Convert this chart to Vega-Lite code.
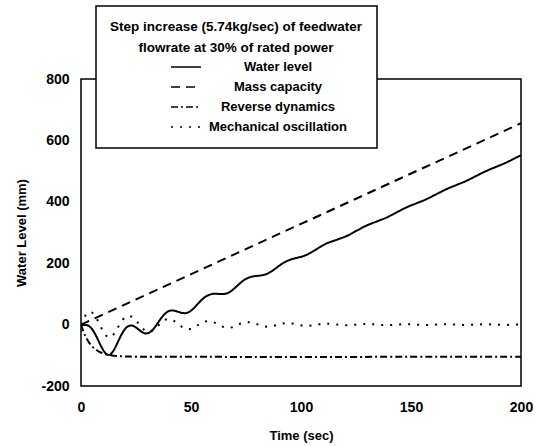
{
  "$schema": "https://vega.github.io/schema/vega-lite/v6.json",
  "autosize": {"type": "none"},
  "padding": {"left": 81, "top": 79, "right": 16, "bottom": 60},
  "width": 440,
  "height": 307,
  "background": "white",
  "data": {
    "values": [
      {"series": "Mass capacity", "time": 0, "level": 0},
      {"series": "Mass capacity", "time": 200, "level": 656},

      {"series": "Reverse dynamics", "time": 0, "level": 0},
      {"series": "Reverse dynamics", "time": 1, "level": -20.9},
      {"series": "Reverse dynamics", "time": 2, "level": -37.7},
      {"series": "Reverse dynamics", "time": 3, "level": -51.1},
      {"series": "Reverse dynamics", "time": 4, "level": -61.8},
      {"series": "Reverse dynamics", "time": 5, "level": -70.4},
      {"series": "Reverse dynamics", "time": 6, "level": -77.3},
      {"series": "Reverse dynamics", "time": 7, "level": -82.8},
      {"series": "Reverse dynamics", "time": 8, "level": -87.3},
      {"series": "Reverse dynamics", "time": 9, "level": -90.8},
      {"series": "Reverse dynamics", "time": 10, "level": -93.6},
      {"series": "Reverse dynamics", "time": 11, "level": -95.9},
      {"series": "Reverse dynamics", "time": 12, "level": -97.7},
      {"series": "Reverse dynamics", "time": 13, "level": -99.2},
      {"series": "Reverse dynamics", "time": 14, "level": -100.3},
      {"series": "Reverse dynamics", "time": 15, "level": -101.3},
      {"series": "Reverse dynamics", "time": 16, "level": -102},
      {"series": "Reverse dynamics", "time": 17, "level": -102.6},
      {"series": "Reverse dynamics", "time": 18, "level": -103.1},
      {"series": "Reverse dynamics", "time": 20, "level": -103.8},
      {"series": "Reverse dynamics", "time": 22, "level": -104.2},
      {"series": "Reverse dynamics", "time": 25, "level": -104.6},
      {"series": "Reverse dynamics", "time": 30, "level": -104.9},
      {"series": "Reverse dynamics", "time": 200, "level": -105},

      {"series": "Mechanical oscillation", "time": 0, "level": 0},
      {"series": "Mechanical oscillation", "time": 1, "level": 16.1},
      {"series": "Mechanical oscillation", "time": 2, "level": 29.7},
      {"series": "Mechanical oscillation", "time": 3, "level": 38.8},
      {"series": "Mechanical oscillation", "time": 4, "level": 42},
      {"series": "Mechanical oscillation", "time": 5, "level": 39.5},
      {"series": "Mechanical oscillation", "time": 6, "level": 32.2},
      {"series": "Mechanical oscillation", "time": 7, "level": 21},
      {"series": "Mechanical oscillation", "time": 8, "level": 7.3},
      {"series": "Mechanical oscillation", "time": 9, "level": -7.3},
      {"series": "Mechanical oscillation", "time": 10, "level": -21},
      {"series": "Mechanical oscillation", "time": 11, "level": -32.2},
      {"series": "Mechanical oscillation", "time": 12, "level": -39.5},
      {"series": "Mechanical oscillation", "time": 13, "level": -42},
      {"series": "Mechanical oscillation", "time": 14, "level": -38},
      {"series": "Mechanical oscillation", "time": 15, "level": -29.8},
      {"series": "Mechanical oscillation", "time": 16, "level": -18.7},
      {"series": "Mechanical oscillation", "time": 17, "level": -6.2},
      {"series": "Mechanical oscillation", "time": 18, "level": 6},
      {"series": "Mechanical oscillation", "time": 19, "level": 16.3},
      {"series": "Mechanical oscillation", "time": 20, "level": 23.8},
      {"series": "Mechanical oscillation", "time": 21, "level": 27.8},
      {"series": "Mechanical oscillation", "time": 22, "level": 28},
      {"series": "Mechanical oscillation", "time": 23, "level": 25.8},
      {"series": "Mechanical oscillation", "time": 24, "level": 20.6},
      {"series": "Mechanical oscillation", "time": 25, "level": 13.2},
      {"series": "Mechanical oscillation", "time": 26, "level": 4.5},
      {"series": "Mechanical oscillation", "time": 27, "level": -4.4},
      {"series": "Mechanical oscillation", "time": 28, "level": -12.3},
      {"series": "Mechanical oscillation", "time": 29, "level": -18.5},
      {"series": "Mechanical oscillation", "time": 30, "level": -22.1},
      {"series": "Mechanical oscillation", "time": 31, "level": -23},
      {"series": "Mechanical oscillation", "time": 32, "level": -21.1},
      {"series": "Mechanical oscillation", "time": 33, "level": -16.8},
      {"series": "Mechanical oscillation", "time": 34, "level": -10.7},
      {"series": "Mechanical oscillation", "time": 35, "level": -3.6},
      {"series": "Mechanical oscillation", "time": 36, "level": 3.5},
      {"series": "Mechanical oscillation", "time": 37, "level": 9.8},
      {"series": "Mechanical oscillation", "time": 38, "level": 14.6},
      {"series": "Mechanical oscillation", "time": 39, "level": 17.4},
      {"series": "Mechanical oscillation", "time": 40, "level": 18},
      {"series": "Mechanical oscillation", "time": 41.5, "level": 15.2},
      {"series": "Mechanical oscillation", "time": 43, "level": 8.5},
      {"series": "Mechanical oscillation", "time": 44.5, "level": 0},
      {"series": "Mechanical oscillation", "time": 46, "level": -8},
      {"series": "Mechanical oscillation", "time": 47.5, "level": -13.4},
      {"series": "Mechanical oscillation", "time": 49, "level": -15},
      {"series": "Mechanical oscillation", "time": 50.5, "level": -12.4},
      {"series": "Mechanical oscillation", "time": 52, "level": -6.8},
      {"series": "Mechanical oscillation", "time": 53.5, "level": 0},
      {"series": "Mechanical oscillation", "time": 55, "level": 6.2},
      {"series": "Mechanical oscillation", "time": 56.5, "level": 10.1},
      {"series": "Mechanical oscillation", "time": 58, "level": 11},
      {"series": "Mechanical oscillation", "time": 59.5, "level": 9.5},
      {"series": "Mechanical oscillation", "time": 61, "level": 5.5},
      {"series": "Mechanical oscillation", "time": 62.5, "level": 0},
      {"series": "Mechanical oscillation", "time": 64, "level": -5.5},
      {"series": "Mechanical oscillation", "time": 65.5, "level": -9.5},
      {"series": "Mechanical oscillation", "time": 67, "level": -11},
      {"series": "Mechanical oscillation", "time": 68.5, "level": -9.1},
      {"series": "Mechanical oscillation", "time": 70, "level": -5},
      {"series": "Mechanical oscillation", "time": 71.5, "level": 0},
      {"series": "Mechanical oscillation", "time": 73, "level": 4.5},
      {"series": "Mechanical oscillation", "time": 74.5, "level": 7.4},
      {"series": "Mechanical oscillation", "time": 76, "level": 8},
      {"series": "Mechanical oscillation", "time": 77.5, "level": 6.8},
      {"series": "Mechanical oscillation", "time": 79, "level": 3.8},
      {"series": "Mechanical oscillation", "time": 80.5, "level": 0},
      {"series": "Mechanical oscillation", "time": 82, "level": -3.7},
      {"series": "Mechanical oscillation", "time": 83.5, "level": -6.2},
      {"series": "Mechanical oscillation", "time": 85, "level": -7},
      {"series": "Mechanical oscillation", "time": 86.5, "level": -5.8},
      {"series": "Mechanical oscillation", "time": 88, "level": -3.2},
      {"series": "Mechanical oscillation", "time": 89.5, "level": 0},
      {"series": "Mechanical oscillation", "time": 91, "level": 2.8},
      {"series": "Mechanical oscillation", "time": 92.5, "level": 4.6},
      {"series": "Mechanical oscillation", "time": 94, "level": 5},
      {"series": "Mechanical oscillation", "time": 96, "level": 3.7},
      {"series": "Mechanical oscillation", "time": 98.5, "level": 0},
      {"series": "Mechanical oscillation", "time": 101, "level": -3.3},
      {"series": "Mechanical oscillation", "time": 103, "level": -4},
      {"series": "Mechanical oscillation", "time": 105, "level": -2.9},
      {"series": "Mechanical oscillation", "time": 107.5, "level": 0},
      {"series": "Mechanical oscillation", "time": 110, "level": 2.5},
      {"series": "Mechanical oscillation", "time": 112, "level": 3},
      {"series": "Mechanical oscillation", "time": 116.5, "level": 0},
      {"series": "Mechanical oscillation", "time": 121, "level": -2.5},
      {"series": "Mechanical oscillation", "time": 125.5, "level": 0},
      {"series": "Mechanical oscillation", "time": 130, "level": 2},
      {"series": "Mechanical oscillation", "time": 134.5, "level": 0},
      {"series": "Mechanical oscillation", "time": 139, "level": -1.8},
      {"series": "Mechanical oscillation", "time": 143.5, "level": 0},
      {"series": "Mechanical oscillation", "time": 148, "level": 1.6},
      {"series": "Mechanical oscillation", "time": 152.5, "level": 0},
      {"series": "Mechanical oscillation", "time": 157, "level": -1.5},
      {"series": "Mechanical oscillation", "time": 161.5, "level": 0},
      {"series": "Mechanical oscillation", "time": 166, "level": 1.4},
      {"series": "Mechanical oscillation", "time": 170.5, "level": 0},
      {"series": "Mechanical oscillation", "time": 175, "level": -1.3},
      {"series": "Mechanical oscillation", "time": 179.5, "level": 0},
      {"series": "Mechanical oscillation", "time": 184, "level": 1.2},
      {"series": "Mechanical oscillation", "time": 188.5, "level": 0},
      {"series": "Mechanical oscillation", "time": 193, "level": -1.1},
      {"series": "Mechanical oscillation", "time": 197.5, "level": 0},
      {"series": "Mechanical oscillation", "time": 200, "level": 0.7},

      {"series": "Water level", "time": 0, "level": 0},
      {"series": "Water level", "time": 1, "level": -1.5},
      {"series": "Water level", "time": 2, "level": -1.4},
      {"series": "Water level", "time": 3, "level": -2.5},
      {"series": "Water level", "time": 4, "level": -6.7},
      {"series": "Water level", "time": 5, "level": -14.5},
      {"series": "Water level", "time": 6, "level": -25.4},
      {"series": "Water level", "time": 7, "level": -38.8},
      {"series": "Water level", "time": 8, "level": -53.8},
      {"series": "Water level", "time": 9, "level": -68.6},
      {"series": "Water level", "time": 10, "level": -81.8},
      {"series": "Water level", "time": 11, "level": -92},
      {"series": "Water level", "time": 12, "level": -97.8},
      {"series": "Water level", "time": 13, "level": -98.6},
      {"series": "Water level", "time": 14, "level": -92.4},
      {"series": "Water level", "time": 15, "level": -81.9},
      {"series": "Water level", "time": 16, "level": -68.2},
      {"series": "Water level", "time": 17, "level": -53},
      {"series": "Water level", "time": 18, "level": -38.1},
      {"series": "Water level", "time": 19, "level": -24.9},
      {"series": "Water level", "time": 20, "level": -14.4},
      {"series": "Water level", "time": 21, "level": -7.3},
      {"series": "Water level", "time": 22, "level": -4},
      {"series": "Water level", "time": 23, "level": -3.2},
      {"series": "Water level", "time": 24, "level": -5.2},
      {"series": "Water level", "time": 25, "level": -9.4},
      {"series": "Water level", "time": 26, "level": -14.9},
      {"series": "Water level", "time": 27, "level": -20.5},
      {"series": "Water level", "time": 28, "level": -25.3},
      {"series": "Water level", "time": 29, "level": -28.2},
      {"series": "Water level", "time": 30, "level": -28.6},
      {"series": "Water level", "time": 31, "level": -26.2},
      {"series": "Water level", "time": 32, "level": -21.1},
      {"series": "Water level", "time": 33, "level": -13.6},
      {"series": "Water level", "time": 34, "level": -4.2},
      {"series": "Water level", "time": 35, "level": 6.2},
      {"series": "Water level", "time": 36, "level": 16.6},
      {"series": "Water level", "time": 37, "level": 26.2},
      {"series": "Water level", "time": 38, "level": 34.2},
      {"series": "Water level", "time": 39, "level": 40.3},
      {"series": "Water level", "time": 40, "level": 44.2},
      {"series": "Water level", "time": 41.5, "level": 46.3},
      {"series": "Water level", "time": 43, "level": 44.5},
      {"series": "Water level", "time": 44.5, "level": 41},
      {"series": "Water level", "time": 46, "level": 37.9},
      {"series": "Water level", "time": 47.5, "level": 37.4},
      {"series": "Water level", "time": 49, "level": 40.7},
      {"series": "Water level", "time": 50.5, "level": 48.2},
      {"series": "Water level", "time": 52, "level": 58.8},
      {"series": "Water level", "time": 53.5, "level": 70.5},
      {"series": "Water level", "time": 55, "level": 81.6},
      {"series": "Water level", "time": 56.5, "level": 90.4},
      {"series": "Water level", "time": 58, "level": 96.2},
      {"series": "Water level", "time": 59.5, "level": 99.7},
      {"series": "Water level", "time": 61, "level": 100.6},
      {"series": "Water level", "time": 62.5, "level": 100},
      {"series": "Water level", "time": 64, "level": 99.4},
      {"series": "Water level", "time": 65.5, "level": 100.3},
      {"series": "Water level", "time": 67, "level": 103.8},
      {"series": "Water level", "time": 68.5, "level": 110.6},
      {"series": "Water level", "time": 70, "level": 119.6},
      {"series": "Water level", "time": 71.5, "level": 129.5},
      {"series": "Water level", "time": 73, "level": 138.9},
      {"series": "Water level", "time": 74.5, "level": 146.8},
      {"series": "Water level", "time": 76, "level": 152.3},
      {"series": "Water level", "time": 77.5, "level": 156},
      {"series": "Water level", "time": 79, "level": 157.9},
      {"series": "Water level", "time": 80.5, "level": 159},
      {"series": "Water level", "time": 82, "level": 160.3},
      {"series": "Water level", "time": 83.5, "level": 162.7},
      {"series": "Water level", "time": 85, "level": 166.8},
      {"series": "Water level", "time": 86.5, "level": 172.9},
      {"series": "Water level", "time": 88, "level": 180.4},
      {"series": "Water level", "time": 89.5, "level": 188.6},
      {"series": "Water level", "time": 91, "level": 196.3},
      {"series": "Water level", "time": 92.5, "level": 203},
      {"series": "Water level", "time": 94, "level": 208.3},
      {"series": "Water level", "time": 96, "level": 213.6},
      {"series": "Water level", "time": 98.5, "level": 218.1},
      {"series": "Water level", "time": 101, "level": 223},
      {"series": "Water level", "time": 103, "level": 228.8},
      {"series": "Water level", "time": 105, "level": 236.5},
      {"series": "Water level", "time": 107.5, "level": 247.6},
      {"series": "Water level", "time": 110, "level": 258.3},
      {"series": "Water level", "time": 112, "level": 265.4},
      {"series": "Water level", "time": 116.5, "level": 277.1},
      {"series": "Water level", "time": 121, "level": 289.4},
      {"series": "Water level", "time": 125.5, "level": 306.6},
      {"series": "Water level", "time": 130, "level": 323.4},
      {"series": "Water level", "time": 134.5, "level": 336.2},
      {"series": "Water level", "time": 139, "level": 349.1},
      {"series": "Water level", "time": 143.5, "level": 365.7},
      {"series": "Water level", "time": 148, "level": 382},
      {"series": "Water level", "time": 152.5, "level": 395.2},
      {"series": "Water level", "time": 157, "level": 408.5},
      {"series": "Water level", "time": 161.5, "level": 424.7},
      {"series": "Water level", "time": 166, "level": 440.9},
      {"series": "Water level", "time": 170.5, "level": 454.2},
      {"series": "Water level", "time": 175, "level": 467.7},
      {"series": "Water level", "time": 179.5, "level": 483.8},
      {"series": "Water level", "time": 184, "level": 499.7},
      {"series": "Water level", "time": 188.5, "level": 513.3},
      {"series": "Water level", "time": 193, "level": 526.9},
      {"series": "Water level", "time": 197.5, "level": 542.8},
      {"series": "Water level", "time": 200, "level": 551.7}
    ]
  },
  "mark": {
    "type": "line",
    "color": "black",
    "strokeWidth": 2,
    "strokeCap": "butt",
    "interpolate": "catmull-rom",
    "clip": true
  },
  "encoding": {
    "x": {
      "field": "time",
      "type": "quantitative",
      "scale": {"domain": [0, 200], "nice": false},
      "axis": {
        "title": "Time (sec)",
        "values": [0, 50, 100, 150, 200],
        "labelFlush": false,
        "labelPadding": 14,
        "titlePadding": 15
      }
    },
    "y": {
      "field": "level",
      "type": "quantitative",
      "scale": {"domain": [-200, 800], "nice": false},
      "axis": {
        "title": "Water Level (mm)",
        "values": [-200, 0, 200, 400, 600, 800],
        "labelExpr": "'' + datum.value",
        "labelFlush": false,
        "labelPadding": 12,
        "titlePadding": 12
      }
    },
    "strokeDash": {
      "field": "series",
      "type": "nominal",
      "scale": {
        "domain": ["Water level", "Mass capacity", "Reverse dynamics", "Mechanical oscillation"],
        "range": [[1, 0], [9, 6], [7, 3, 2, 3], [2, 7]]
      },
      "legend": {
        "title": ["Step increase (5.74kg/sec) of feedwater", "flowrate at 30% of rated power"],
        "orient": "none",
        "legendX": 15,
        "legendY": -73,
        "padding": 14,
        "fillColor": "white",
        "strokeColor": "black",
        "titleAnchor": "middle",
        "titleAlign": "center",
        "titleLimit": 400,
        "titleFontSize": 13.5,
        "titleFontWeight": "bold",
        "titleLineHeight": 21,
        "titlePadding": 6,
        "labelFontSize": 13,
        "labelFontWeight": "bold",
        "labelLimit": 300,
        "labelAlign": "center",
        "labelOffset": 76,
        "symbolOffset": 45,
        "symbolSize": 900,
        "symbolStrokeWidth": 1.5,
        "symbolStrokeColor": "black",
        "clipHeight": 13,
        "rowPadding": 6
      }
    }
  },
  "config": {
    "font": "Liberation Sans",
    "view": {"stroke": "black", "strokeWidth": 1.5},
    "axis": {
      "grid": false,
      "ticks": false,
      "domain": false,
      "labelFontSize": 14,
      "labelFontWeight": "bold",
      "labelColor": "black",
      "titleFontSize": 13,
      "titleFontWeight": "bold",
      "titleColor": "black"
    },
    "legend": {"labelColor": "black", "titleColor": "black", "strokeWidth": 1.5}
  }
}
